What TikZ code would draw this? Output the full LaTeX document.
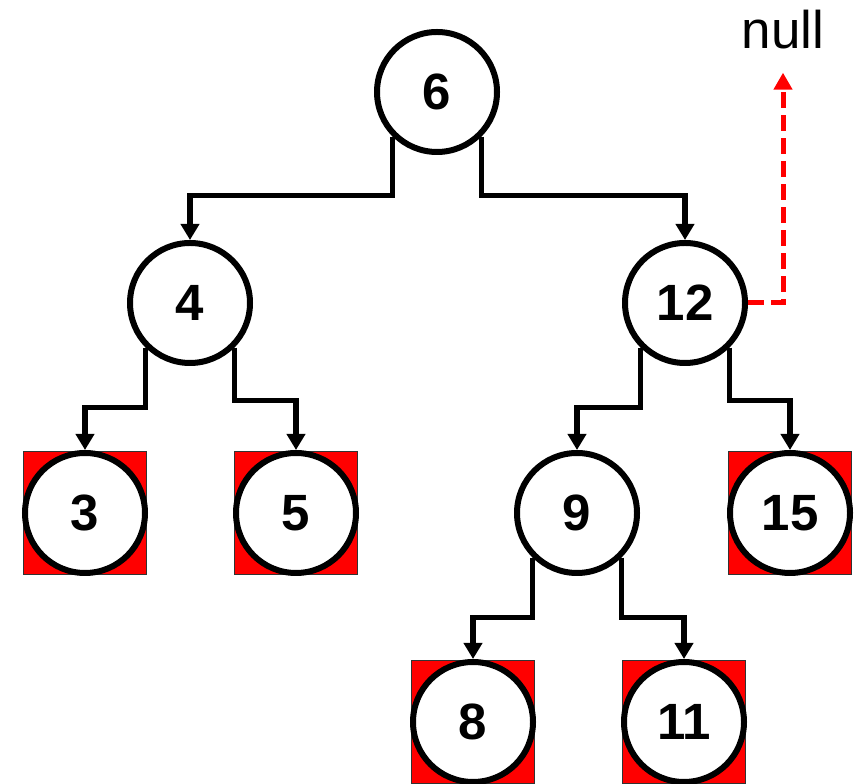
\documentclass[tikz,border=0pt]{standalone}
\usepackage{fontspec}
\setmainfont{Liberation Sans}
\usetikzlibrary{arrows.meta, backgrounds}

\begin{document}
\begin{tikzpicture}[
  x=1pt, y=1pt,
  key/.style={circle, draw, line width=6pt, fill=white, minimum size=120pt,
              inner sep=0pt, font=\fontsize{51}{60}\selectfont\bfseries},
  nilbox/.style={rectangle, draw=black!80, line width=1.2pt, fill=red,
                 minimum size=123pt, inner sep=0pt},
  edge/.style={-{Triangle[width=18pt,length=16pt]}, line width=5.5pt},
  nullptr/.style={-{Triangle[width=18pt,length=17pt]}, red, line width=5pt,
                  dash pattern=on 16pt off 7pt, shorten >=23pt},
  >=Stealth
]
\useasboundingbox (0,0) rectangle (859,784);
\node[key] (n6) at (437,692) {6};
\node[key] (n4) at (190,481) {4};
\node[key] (n12) at (685,481) {12};
\node[key] (n3) at (85,271) {3};
\node[key] (n5) at (296,271) {5};
\node[key] (n9) at (577,271) {9};
\node[key] (n15) at (790,271) {15};
\node[key] (n8) at (473,62) {8};
\node[key] (n11) at (684,62) {11};
\node[font=\fontsize{53}{60}\selectfont, inner sep=0pt] (nul) at (783,754) {null};
% red squares behind the leaves
\begin{scope}[on background layer]
\foreach \n in {n3,n5,n15,n8,n11}
  \node[nilbox] (box-\n) at (\n) {};
\end{scope}
\draw[edge] (n6.-135) -- ++(0,-59) -| (n4.north);
\draw[edge] (n6.-45) -- ++(0,-59) -| (n12.north);
\draw[edge] (n4.-135) -- ++(0,-60) -| (n3.north);
\draw[edge] (n4.-45) -- ++(0,-53) -| (n5.north);
\draw[edge] (n12.-135) -- ++(0,-60) -| (n9.north);
\draw[edge] (n12.-45) -- ++(0,-53) -| (n15.north);
\draw[edge] (n9.-135) -- ++(0,-60) -| (n8.north);
\draw[edge] (n9.-45) -- ++(0,-60) -| (n11.north);
\draw[nullptr] (n12.east) -| (nul.south);
\end{tikzpicture}
\end{document}
